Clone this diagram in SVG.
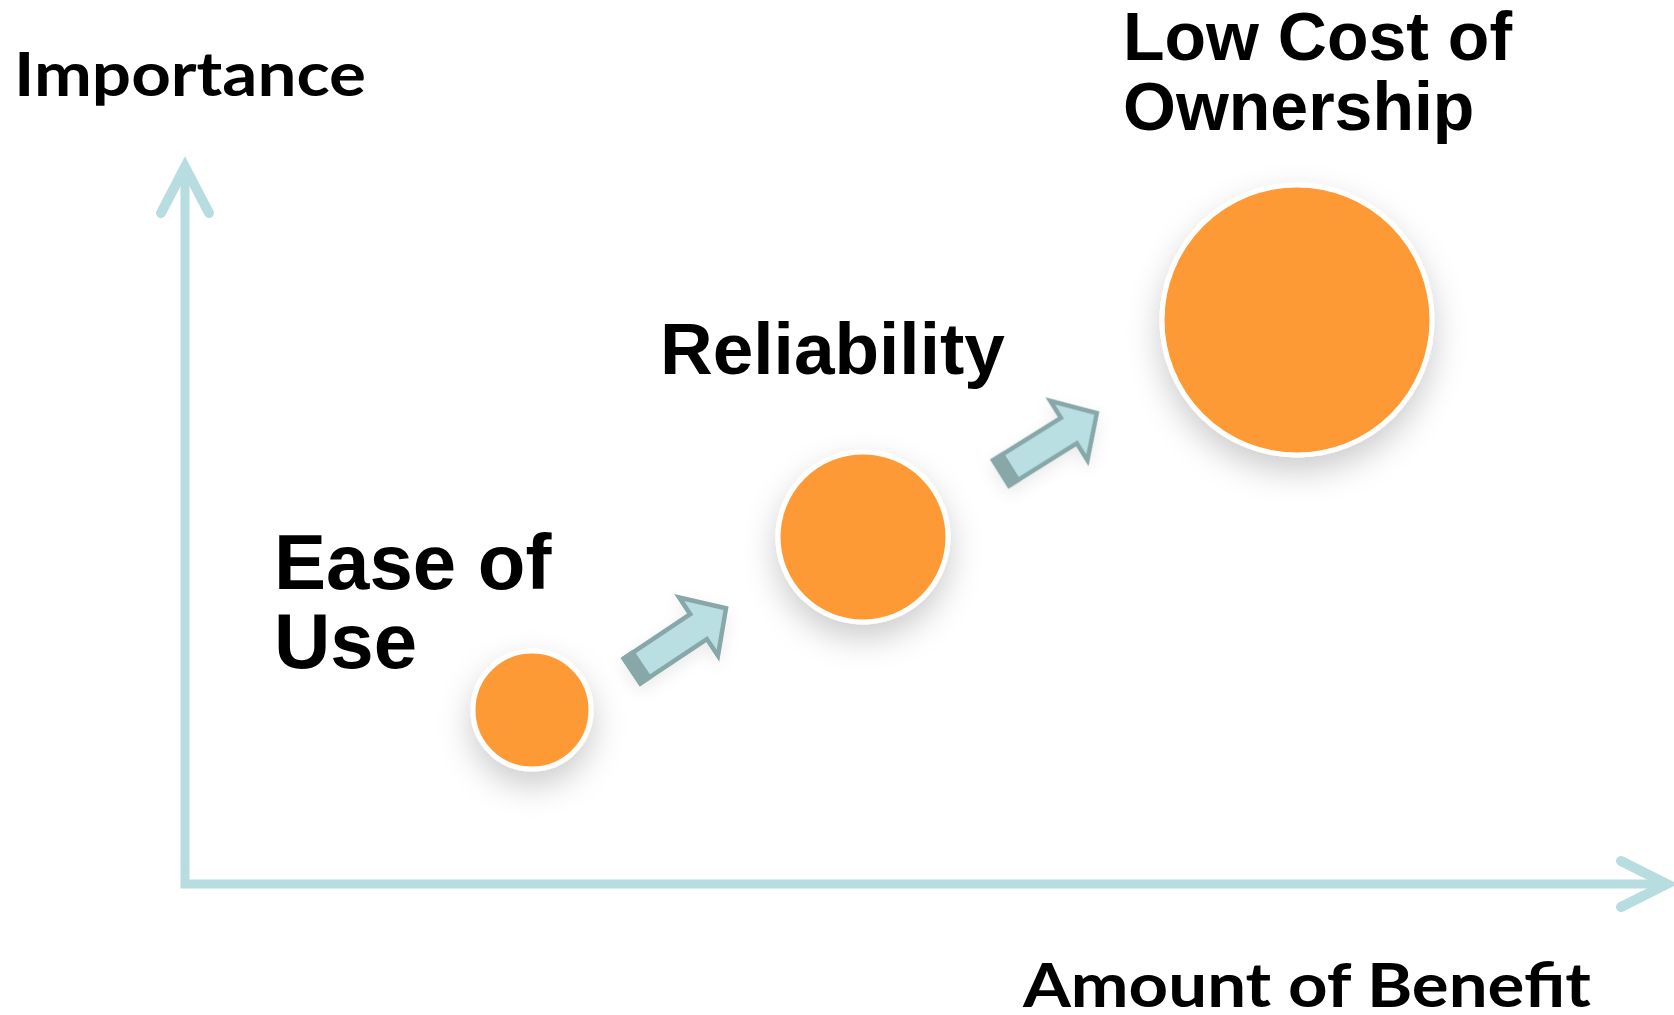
<svg xmlns="http://www.w3.org/2000/svg" width="1674" height="1015" viewBox="0 0 1674 1015">
  <style>
    .axis { fill: none; stroke: #B7DDE0; stroke-width: 9; }
    .axhead { fill: none; stroke: #B7DDE0; stroke-width: 10; stroke-linecap: round; stroke-linejoin: miter; }
    .bubble { fill: #FE9A34; stroke: #FFFFFF; stroke-width: 5; filter: url(#shadow); }
    .lbl { font-family: "Liberation Sans", Arial, sans-serif; font-weight: bold; fill: #000000; }
    .axlbl { font-family: Lato, "Open Sans", sans-serif; font-weight: bold; fill: #000000; }
    .barrow { fill: #B9DFE2; stroke: #87A7A8; stroke-width: 4.5; stroke-linejoin: miter; }
    .btail { fill: #87A7A8; }
  </style>
  <defs>
    <filter id="shadow" x="-60%" y="-60%" width="220%" height="220%">
      <feDropShadow dx="0" dy="14" stdDeviation="16" flood-color="#000000" flood-opacity="0.2"/>
    </filter>
    <filter id="ashadow" x="-30%" y="-60%" width="160%" height="220%">
      <feDropShadow dx="0" dy="6" stdDeviation="8" flood-color="#000000" flood-opacity="0.08"/>
    </filter>
    <g id="blockArrow">
      <polygon class="barrow" points="0,-15 80,-15 80,-35 113,0 80,35 80,15 0,15"/>
      <polygon class="btail" points="-2,-17.2 13,-17.2 13,17.2 -2,17.2"/>
    </g>
  </defs>
  <rect width="1674" height="1015" fill="#FFFFFF"/>

  <g id="axes">
    <polyline class="axis" points="185,172 185,884 1666,884"/>
    <polyline class="axhead" points="161,213 185,167 209,213"/>
    <polyline class="axhead" points="1621,861 1667,884 1621,907"/>
  </g>

  <g id="connectors" filter="url(#ashadow)">
    <use href="#blockArrow" transform="translate(632,671) rotate(-33.7)"/>
    <use href="#blockArrow" transform="translate(1001,473) rotate(-32)"/>
  </g>

  <g id="node-ease">
    <circle class="bubble" cx="532" cy="710" r="59"/>
  </g>
  <g id="node-reliability">
    <circle class="bubble" cx="863" cy="537" r="85"/>
  </g>
  <g id="node-lowcost">
    <circle class="bubble" cx="1297" cy="320" r="135"/>
  </g>

  <g id="labels">
    <text class="axlbl" x="14" y="96" font-size="62" textLength="352" lengthAdjust="spacingAndGlyphs">Importance</text>
    <text class="axlbl" x="1023" y="1007" font-size="62" textLength="568" lengthAdjust="spacingAndGlyphs">Amount of Benefit</text>
    <text class="lbl" x="1123" y="60" font-size="68">Low Cost of</text>
    <text class="lbl" x="1123" y="130" font-size="68">Ownership</text>
    <text class="lbl" x="660" y="374" font-size="73">Reliability</text>
    <text class="lbl" x="274" y="589" font-size="78">Ease of</text>
    <text class="lbl" x="274" y="668" font-size="78">Use</text>
  </g>
</svg>
